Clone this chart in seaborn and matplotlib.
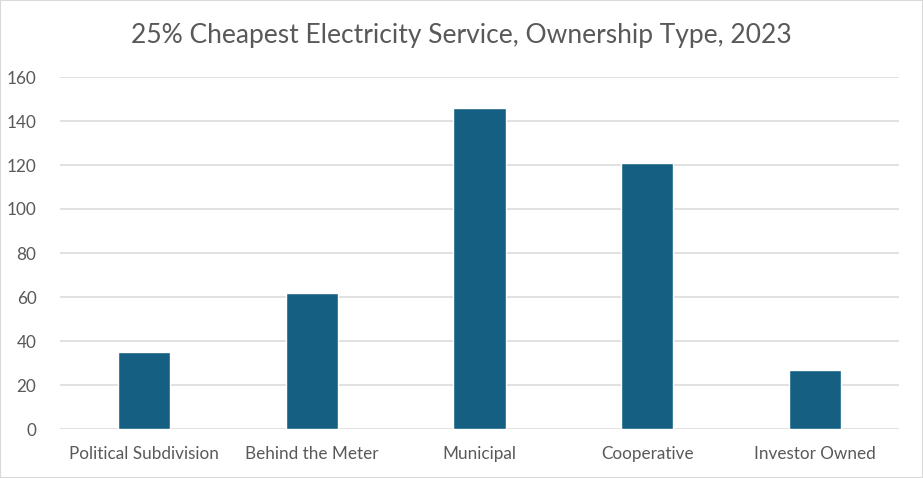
import matplotlib
matplotlib.use("Agg")
import matplotlib.pyplot as plt
import seaborn as sns
import pandas as pd

# data
categories = ["Political Subdivision", "Behind the Meter", "Municipal", "Cooperative", "Investor Owned"]
counts = [35, 62, 146, 121, 27]

df = pd.DataFrame({"ownership": categories, "count": counts})

sns.set_theme(style="white")
plt.rcParams["font.family"] = ["Lato", "DejaVu Sans"]

fig = plt.figure(figsize=(9.23, 4.78), dpi=100)
ax = fig.add_axes([60 / 923, 1 - 429 / 478, 839 / 923, 352 / 478])

sns.barplot(data=df, x="ownership", y="count", color="#156082", width=0.31,
            saturation=1, ax=ax, zorder=3)

ax.set_ylim(0, 160)
ax.set_yticks(range(0, 161, 20))
ax.grid(axis="y", color="#d9d9d9", linewidth=1.1, zorder=0)
ax.set_xlabel("")
ax.set_ylabel("")
for s in ax.spines.values():
    s.set_visible(False)
ax.tick_params(axis="both", length=0, labelsize=12.3, colors="#595959")
ax.tick_params(axis="x", pad=12)
ax.tick_params(axis="y", pad=17)

fig.text(0.5, 1 - 36 / 478, "25% Cheapest Electricity Service, Ownership Type, 2023",
         ha="center", va="center", fontsize=19, color="#595959")

# light border round the chart
fig.patches.append(plt.Rectangle((0, 0), 1, 1, transform=fig.transFigure,
                                 fill=False, edgecolor="#d9d9d9", linewidth=1.5))

fig.savefig("out.png", dpi=100)
